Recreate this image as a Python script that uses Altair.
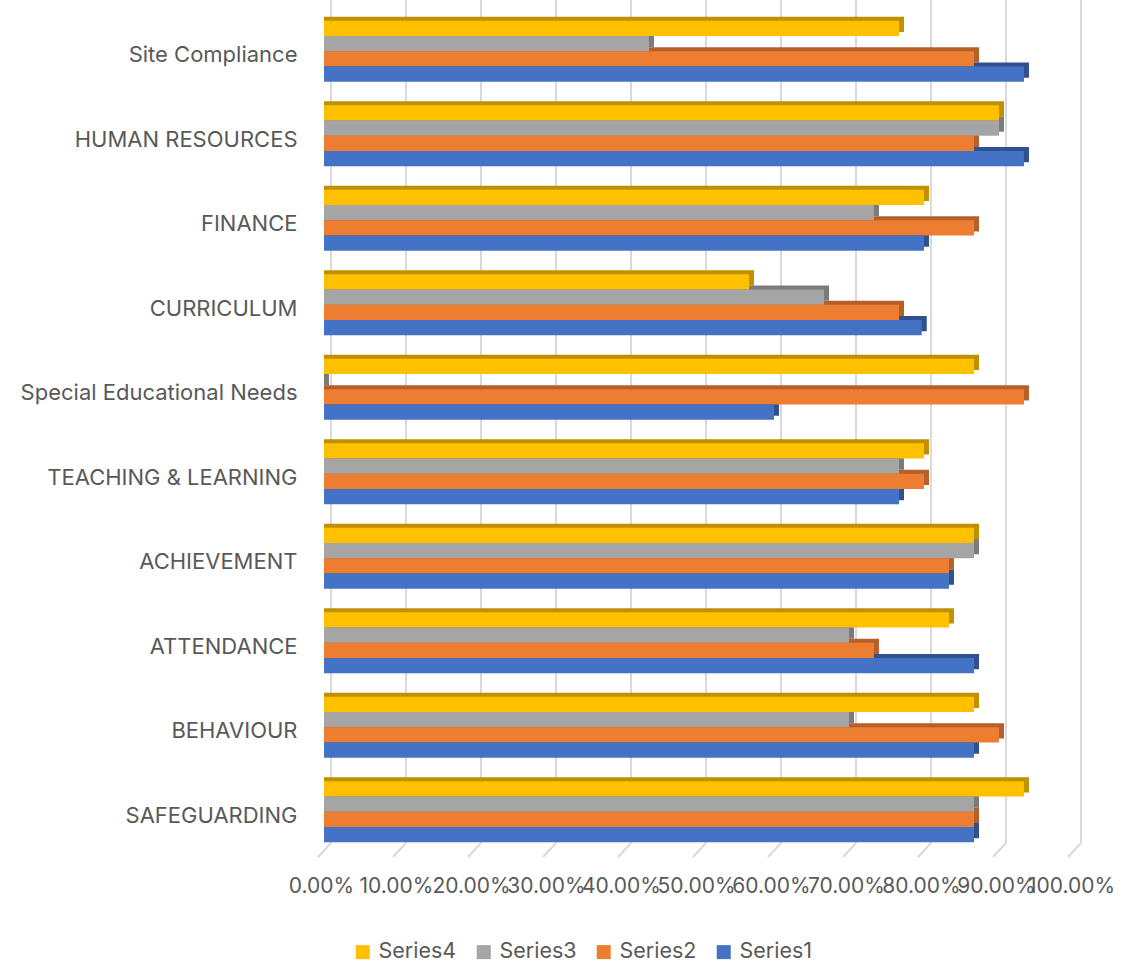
import altair as alt
import pandas as pd

# Categories, listed top to bottom as they appear on the chart
categories = [
    "Site Compliance\u00a0",
    "HUMAN RESOURCES",
    "FINANCE",
    "CURRICULUM",
    "Special Educational Needs",
    "TEACHING & LEARNING",
    "ACHIEVEMENT",
    "ATTENDANCE",
    "BEHAVIOUR",
    "SAFEGUARDING",
]

series1 = [0.9333, 0.9333, 0.8000, 0.7970, 0.6000, 0.7667, 0.8333, 0.8667, 0.8667, 0.8667]
series2 = [0.8667, 0.8667, 0.8667, 0.7667, 0.9333, 0.8000, 0.8333, 0.7333, 0.9000, 0.8667]
series3 = [0.4333, 0.9000, 0.7333, 0.6667, 0.0000, 0.7667, 0.8667, 0.7000, 0.7000, 0.8667]
series4 = [0.7667, 0.9000, 0.8000, 0.5667, 0.8667, 0.8000, 0.8667, 0.8333, 0.8667, 0.9333]

series_names = ["Series4", "Series3", "Series2", "Series1"]
tick_values = [0.0, 0.1, 0.2, 0.3, 0.4, 0.5, 0.6, 0.7, 0.8, 0.9, 1.0]

rows = []
for name, vals in [("Series1", series1), ("Series2", series2),
                   ("Series3", series3), ("Series4", series4)]:
    for cat, v in zip(categories, vals):
        rows.append({"category": cat, "series": name, "value": v})
df = pd.DataFrame(rows)
ticks_df = pd.DataFrame({"t": tick_values})

FONT = "Inter"
TEXT = "#595959"
GRID = "#d9d9d9"

face_colors = {"Series4": "#FFC000", "Series3": "#A5A5A5",
               "Series2": "#ED7D31", "Series1": "#4472C4"}
side_colors = {"Series4": "#BF9000", "Series3": "#7B7B7B",
               "Series2": "#B5602A", "Series1": "#2F528F"}

BAR_H = 15.3
bar_offset = {"Series4": -22.95, "Series3": -7.65, "Series2": 7.65, "Series1": 22.95}
DEPTH_X, DEPTH_Y = 5, 4

x_scale = alt.Scale(domain=[0, 1], nice=False, zero=True)
x_axis = alt.Axis(
    title=None, values=tick_values, format=".2%",
    labelFont=FONT, labelFontSize=21, labelColor=TEXT,
    labelPadding=21, labelOffset=-3, labelOverlap=False, labelFlush=False,
    labelBound=False, ticks=False, domain=False, grid=False,
)


def xenc(field):
    return alt.X(f"{field}:Q", scale=x_scale, axis=x_axis, stack=None)


yenc = alt.Y(
    "category:N", sort=categories,
    scale=alt.Scale(domain=categories, paddingInner=0, paddingOuter=0),
    axis=alt.Axis(
        title=None, labelFont=FONT, labelFontSize=22, labelColor=TEXT,
        labelPadding=27, labelOffset=4, labelLimit=400,
        ticks=False, domain=False, grid=False,
    ),
)

# Back-wall gridlines and the slanted floor ticks beneath them
grid = alt.Chart(ticks_df).mark_rule(
    color=GRID, strokeWidth=2, xOffset=7, x2Offset=7
).encode(x=xenc("t"), x2="t:Q", y=alt.value(-9), y2=alt.value(834))

floor = alt.Chart(ticks_df).mark_rule(
    color=GRID, strokeWidth=2, xOffset=7, x2Offset=-6
).encode(x=xenc("t"), x2="t:Q", y=alt.value(834), y2=alt.value(848))

base = alt.Chart(df)

# Darker copies shifted up and right give each bar its top and side faces
sides = [
    base.transform_filter(alt.datum.series == s).mark_bar(
        color=side_colors[s], height=BAR_H,
        yOffset=bar_offset[s] - DEPTH_Y, xOffset=DEPTH_X, x2Offset=DEPTH_X,
    ).encode(x=xenc("value"), y=yenc)
    for s in series_names
]

color = alt.Color(
    "series:N",
    scale=alt.Scale(domain=series_names, range=[face_colors[s] for s in series_names]),
    legend=alt.Legend(
        title=None, orient="none", direction="horizontal",
        legendX=28, legendY=932,
        symbolType="square", symbolSize=196, symbolStrokeWidth=0,
        labelFont=FONT, labelFontSize=21.5, labelColor=TEXT,
        labelOffset=5, columnPadding=16,
    ),
)

faces = [
    base.transform_filter(alt.datum.series == s).mark_bar(
        height=BAR_H, yOffset=bar_offset[s]
    ).encode(x=xenc("value"), y=yenc, color=color)
    for s in series_names
]

chart = alt.layer(grid, floor, *sides, *faces).properties(
    width=750, height=845,
    autosize=alt.AutoSizeParams(type="none"),
    padding={"left": 324, "top": 9, "right": 72, "bottom": 109},
).configure_view(strokeWidth=0)

chart.save("out.html", embed_options={"renderer": "svg", "actions": False})
